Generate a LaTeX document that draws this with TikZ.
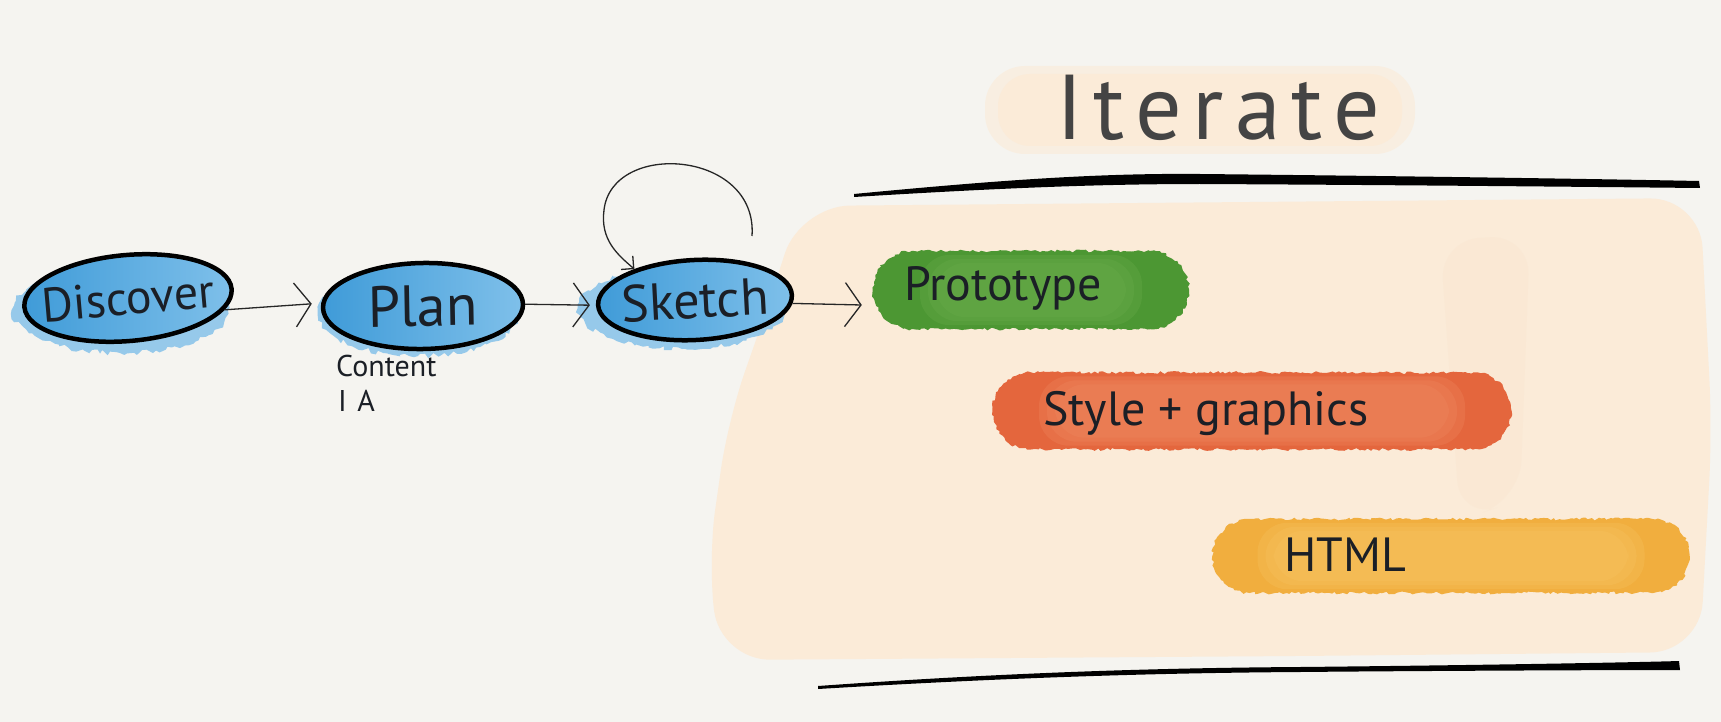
\documentclass[tikz,border=0pt]{standalone}
\usepackage{fontspec}
\setmainfont{PT Sans}
\newfontfamily\hand{PT Sans}
\newfontfamily\spaced[LetterSpace=12]{PT Sans}
\usetikzlibrary{shapes.geometric,shapes.misc,arrows.meta,decorations.pathmorphing}
\definecolor{bg}{HTML}{F5F4F0}
\definecolor{peach}{HTML}{FBEBD8}
\definecolor{peachD}{HTML}{F9E3CB}
\definecolor{blueD}{HTML}{3F9BD8}
\definecolor{blueL}{HTML}{7FC0EA}
\definecolor{blueW}{HTML}{86C2EA}
\definecolor{gEdge}{HTML}{4C9733}
\definecolor{gIn}{HTML}{6AAD4B}
\definecolor{oEdge}{HTML}{E4663D}
\definecolor{oIn}{HTML}{EE8961}
\definecolor{yEdge}{HTML}{F1AE3E}
\definecolor{yIn}{HTML}{F7C462}
\definecolor{ink}{HTML}{1B1F26}
\definecolor{iterc}{HTML}{444444}
\pgfmathsetseed{7}
\tikzset{
  stage/.style={ellipse, draw=black, line width=4.5pt, inner xsep=-30pt, inner ysep=-10pt,
    left color=blueD, right color=blueL, text=ink},
  wash/.style={fill=blueW, opacity=0.85, decorate,
    decoration={random steps, segment length=4pt, amplitude=2.5pt}},
  blob/.style={rounded rectangle, inner sep=0pt, decorate,
    decoration={random steps, segment length=3pt, amplitude=1.4pt}},
  itemtext/.style={inner sep=0pt, text=ink, font=\hand\fontsize{48}{48}\selectfont},
  conn/.style={draw=black!85, line width=1.3pt,
    -{Straight Barb[length=16pt,width=44pt]}},
  soft/.style={opacity=0.3, rounded corners=#1},
}
\begin{document}
\begin{tikzpicture}[x=1pt,y=-1pt]
\useasboundingbox (0,0) rectangle (1721,722);
\fill[bg] (0,0) rectangle (1721,722);

% big peach wash
\fill[peach, rounded corners=50] (800,206) -- (1700,198) -- (1712,430) -- (1700,652)
  -- (1300,656) -- (720,660) -- (708,560) -- (728,420) -- (770,300) -- cycle;
\fill[peachD, opacity=0.3, rounded corners=40] (1440,240) -- (1530,235) -- (1520,500) -- (1460,520) -- cycle;
% iterate wash
\fill[peach, opacity=0.6, rounded corners=40] (985,66) rectangle (1415,154);
\fill[peach, rounded corners=32] (998,74) rectangle (1402,146);

% thick lines
\fill[black] (854,194) .. controls (1000,180) and (1100,173) .. (1200,174)
  .. controls (1400,176) and (1600,179) .. (1699,181) -- (1700,188)
  .. controls (1600,187) and (1400,185) .. (1200,184)
  .. controls (1100,184) and (1000,188) .. (854,197) -- cycle;
\fill[black] (818,686) .. controls (1000,673) and (1150,668) .. (1300,667)
  .. controls (1500,665) and (1650,662) .. (1679,661) -- (1680,670)
  .. controls (1600,670) and (1400,671) .. (1300,672)
  .. controls (1150,673) and (1000,678) .. (818,689) -- cycle;

% blue washes
\fill[wash] (120,310) ellipse [x radius=108, y radius=43];
\fill[wash] (418,314) ellipse [x radius=100, y radius=42];
\fill[wash] (682,308) ellipse [x radius=104, y radius=41];

% stages
\node[stage, minimum width=208, minimum height=86, rotate=5,
  font=\hand\fontsize{48}{48}\selectfont] (disc) at (128,298) {Discover};
\node[stage, minimum width=200, minimum height=86, rotate=1,
  font=\hand\fontsize{58}{58}\selectfont] (plan) at (423,306) {Plan};
\node[stage, minimum width=194, minimum height=80, rotate=3,
  font=\hand\fontsize{52}{52}\selectfont] (sketch) at (695,300) {Sketch};

\node[anchor=west, inner sep=0pt, text=ink, font=\hand\fontsize{30}{30}\selectfont] (content) at (336,366) {Content};
\node[anchor=west, inner sep=0pt, text=ink, font=\hand\fontsize{30}{30}\selectfont] (ia) at (338,401) {I\hspace{0.35em}A};

% coloured blobs
\node[blob, fill=gEdge, minimum width=316, minimum height=78] (protob) at (1031,290) {};
\foreach \i in {1,2,3}
  \fill[gIn, soft=30] ([shift={(8*\i,-4*\i)}]protob.south west) rectangle ([shift={(-8*\i,4*\i)}]protob.north east);
\node[itemtext, anchor=west] (proto) at (904,288) {Prototype};

\node[blob, fill=oEdge, minimum width=519, minimum height=77] (styleb) at (1252,411) {};
\foreach \i in {1,2,3}
  \fill[oIn, soft=30] ([shift={(8*\i,-4*\i)}]styleb.south west) rectangle ([shift={(-8*\i,4*\i)}]styleb.north east);
\node[itemtext, anchor=west] (style) at (1043,413) {Style + graphics};

\node[blob, fill=yEdge, minimum width=477, minimum height=74] (htmlb) at (1451,556) {};
\foreach \i in {1,2,3}
  \fill[yIn, soft=30] ([shift={(8*\i,-4*\i)}]htmlb.south west) rectangle ([shift={(-8*\i,4*\i)}]htmlb.north east);
\node[itemtext, anchor=west] (html) at (1284,555) {HTML};

% title
\node[inner sep=0pt, text=iterc, font=\spaced\fontsize{92}{92}\selectfont] (iter) at (1218,108) {Iterate};

% connectors
\draw[conn] (disc.-12) -- ([xshift=-9pt,yshift=4pt]plan.west);
\draw[conn] (plan.east) -- ([xshift=-6pt]sketch.west);
\draw[conn] (sketch.-5) -- ([shift={(-11,15)}]protob.west);
\coordinate (loopstart) at (752,236);
\draw[draw=black!85, line width=1.3pt, -{Straight Barb[length=9pt,width=18pt]}]
  (loopstart) .. controls (758,150) and (612,140) .. (604,210)
  .. controls (600,240) and (618,255) .. (sketch.150);
\end{tikzpicture}
\end{document}
